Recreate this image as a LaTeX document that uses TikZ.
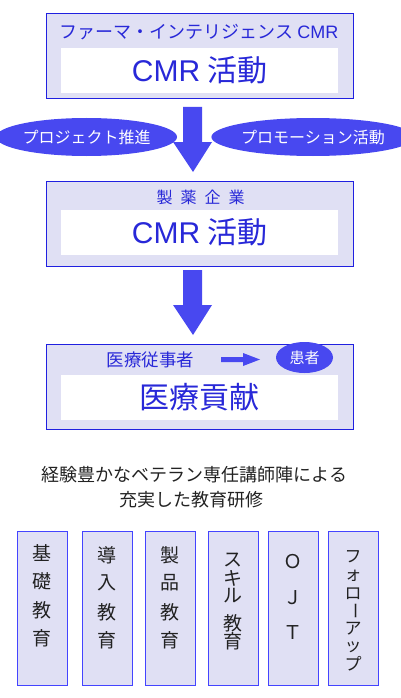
\documentclass[tikz,border=0pt]{standalone}
\usepackage{fontspec}
\setmainfont{Noto Sans CJK JP}
\newfontfamily\latf{Liberation Sans}
\usetikzlibrary{shapes.geometric}
\definecolor{boxfill}{HTML}{E0E0F4}
\definecolor{boxline}{HTML}{2020E0}
\definecolor{boxtext}{HTML}{2828D8}
\definecolor{arrowblue}{HTML}{4848F0}
\definecolor{lowline}{HTML}{4444FF}
\definecolor{darktext}{HTML}{222222}
\tikzset{
  bigbox/.style={draw=boxline, line width=1pt, fill=boxfill, minimum width=307pt, minimum height=85pt, inner sep=0pt},
  whitebox/.style={fill=white, minimum width=277pt, minimum height=45pt, inner sep=0pt, text=boxtext},
  boxtitle/.style={text=boxtext, inner sep=0pt},
  bubble/.style={ellipse, fill=arrowblue, text=white, inner sep=0pt},
  blockarrow/.style={fill=arrowblue},
  lowbox/.style={draw=lowline, line width=0.8pt, fill=boxfill, minimum width=50pt, minimum height=154pt, inner sep=0pt},
  lowtext/.style={text=darktext, inner sep=0pt, font=\fontsize{19}{19}\selectfont, align=center},
  smalllowtext/.style={text=darktext, inner sep=0pt, font=\fontsize{17}{17}\selectfont, align=center},
}
\begin{document}
\begin{tikzpicture}[x=1pt,y=-1pt]
\useasboundingbox (0,0) rectangle (400,698);
% box 1
\node[bigbox] (b1) at (199.5,56.5) {};
\node[boxtitle, font=\fontsize{18}{18}\selectfont] (t1) at (199,32) {ファーマ・インテリジェンス\hspace{4pt}{\latf\fontsize{18}{18}\selectfont CMR}};
\node[whitebox, font=\fontsize{30}{30}\selectfont] (w1) at (199.5,70.5) {{\latf CMR} 活動};
% arrow 1
\fill[blockarrow] (183,107) -- (202,107) -- (202,142) -- (212,142) -- (193,172) -- (173,142) -- (183,142) -- cycle;
% bubbles
\node[bubble, minimum width=169pt, minimum height=38pt, font=\fontsize{16}{16}\selectfont] (e1) at (86.5,137) {プロジェクト推進};
\node[bubble, minimum width=170pt, minimum height=38pt, font=\fontsize{16}{16}\selectfont] (e2) at (313,137) {プロモーション活動};
% box 2
\node[bigbox] (b2) at (199.5,224) {};
\node[boxtitle, font=\fontsize{16}{16}\selectfont] (t2) at (200.5,197) {製\hspace{8pt}薬\hspace{8pt}企\hspace{8pt}業};
\node[whitebox, font=\fontsize{30}{30}\selectfont] (w2) at (199.5,232.5) {{\latf CMR} 活動};
% arrow 2
\fill[blockarrow] (183,270) -- (202,270) -- (202,305) -- (212,305) -- (193,335) -- (173,305) -- (183,305) -- cycle;
% box 3
\node[bigbox] (b3) at (199.5,387) {};
\node[boxtitle, font=\fontsize{17.5}{17.5}\selectfont] (t3) at (150.5,360) {医療従事者};
\node[bubble, minimum width=57pt, minimum height=31pt, font=\fontsize{15}{15}\selectfont] (e3) at (304.5,357.5) {患者};
\fill[blockarrow] (221,357) -- (243,357) -- (243,353) -- (260,359.5) -- (243,366) -- (243,362) -- (221,362) -- cycle;
\node[whitebox, font=\fontsize{30}{30}\selectfont] (w3) at (199.5,397.5) {医療貢献};
% text lines
\node[text=darktext, inner sep=0pt, font=\fontsize{18}{18}\selectfont] (l1) at (194.5,475) {経験豊かなベテラン専任講師陣による};
\node[text=darktext, inner sep=0pt, font=\fontsize{18}{18}\selectfont] (l2) at (191.5,500) {充実した教育研修};
% low boxes
\node[lowbox] (c1) at (42,608) {};
\node[lowbox] (c2) at (107,608) {};
\node[lowbox] (c3) at (170,608) {};
\node[lowbox] (c4) at (233,608) {};
\node[lowbox] (c5) at (293,608) {};
\node[lowbox] (c6) at (353,608) {};
\node[lowtext] (x1a) at (42,553) {基};
\node[lowtext] (x1b) at (42,581) {礎};
\node[lowtext] (x1c) at (42,610) {教};
\node[lowtext] (x1d) at (42,638) {育};
\node[lowtext] (x2a) at (107,555) {導};
\node[lowtext] (x2b) at (107,583) {入};
\node[lowtext] (x2c) at (107,612) {教};
\node[lowtext] (x2d) at (107,640) {育};
\node[lowtext] (x3a) at (170,555) {製};
\node[lowtext] (x3b) at (170,583) {品};
\node[lowtext] (x3c) at (170,612) {教};
\node[lowtext] (x3d) at (170,640) {育};
\node[lowtext] (x4a) at (233,560) {ス};
\node[lowtext] (x4b) at (233,578) {キ};
\node[lowtext] (x4c) at (233,596) {ル};
\node[lowtext] (x4d) at (233,623) {教};
\node[lowtext] (x4e) at (233,641) {育};
\node[lowtext] (x5a) at (293,562) {Ｏ};
\node[lowtext] (x5b) at (293,598) {Ｊ};
\node[lowtext] (x5c) at (293,633) {Ｔ};
\node[smalllowtext] (x6a) at (353,557) {フ};
\node[smalllowtext] (x6b) at (353,576) {ォ};
\node[smalllowtext] (x6c) at (353,594) {ロ};
\node[smalllowtext] (x6d) at (353,611) {\rotatebox{-90}{ー}};
\node[smalllowtext] (x6e) at (353,629) {ア};
\node[smalllowtext] (x6f) at (353,647) {ッ};
\node[smalllowtext] (x6g) at (353,664) {プ};
\end{tikzpicture}
\end{document}
